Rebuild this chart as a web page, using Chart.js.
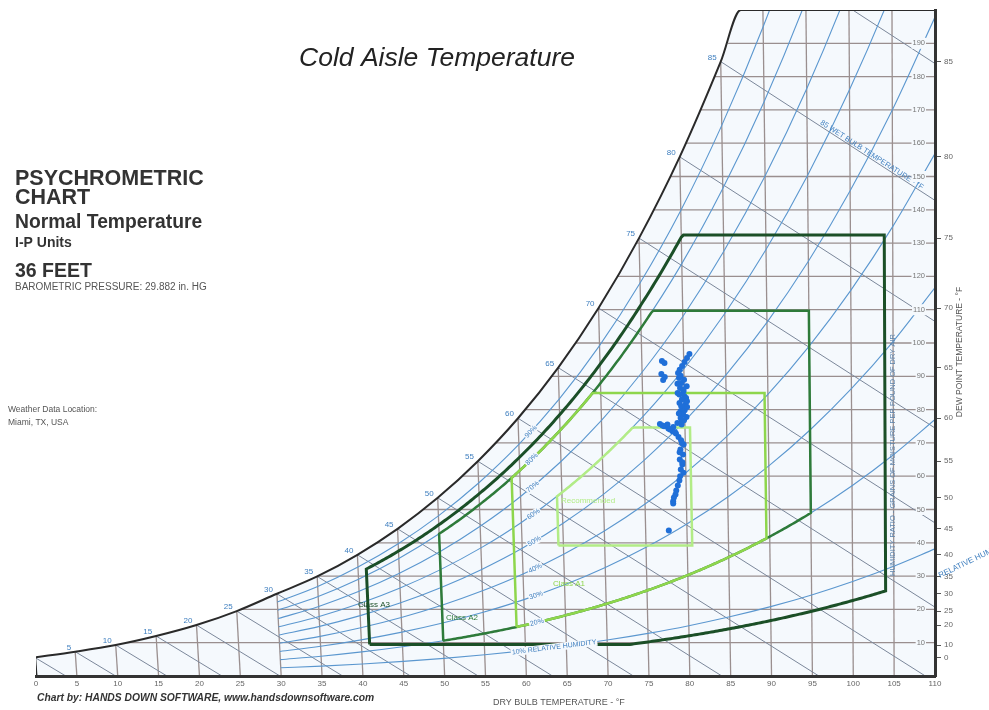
<!DOCTYPE html>
<html>
<head>
<meta charset="utf-8">
<title>Cold Aisle Temperature</title>
<script src="https://cdn.jsdelivr.net/npm/chart.js@4.4.1/dist/chart.umd.min.js"></script>
<style>
  html, body { margin: 0; padding: 0; background: #fff; }
  #psy { display: block; }
</style>
</head>
<body>
<canvas id="psy" width="989" height="710"></canvas>
<script>
// axis ticks
var dryBulbTicks = [0, 5, 10, 15, 20, 25, 30, 35, 40, 45, 50, 55, 60, 65, 70, 75, 80, 85, 90, 95, 100, 105, 110];
var grainTicks = [10, 20, 30, 40, 50, 60, 70, 80, 90, 100, 110, 120, 130, 140, 150, 160, 170, 180, 190];
var dewPointTicks = [0, 10, 20, 25, 30, 35, 40, 45, 50, 55, 60, 65, 70, 75, 80, 85];

// saturation humidity ratio, grains per lb dry air, at 29.882 in. Hg
var satTemps = [0, 5, 10, 15, 20, 25, 30, 35, 40, 45, 50, 55, 60, 65, 70, 75, 80, 85, 90, 95, 100, 105, 110];
var satGrains = [5.6, 7.3, 9.3, 12.0, 15.3, 19.5, 24.7, 29.9, 36.4, 44.2, 53.5, 64.5, 77.4, 92.6, 110.5, 131.5, 155.9, 184.5, 217.7, 256.4, 301.5, 353.8, 414.6];

var rhLevels = [10, 20, 30, 40, 50, 60, 70, 80, 90];
var wetBulbTemps = [0, 5, 10, 15, 20, 25, 30, 35, 40, 45, 50, 55, 60, 65, 70, 75, 80, 85, 90];
var satLabelTemps = [5, 10, 15, 20, 25, 30, 35, 40, 45, 50, 55, 60, 65, 70, 75, 80, 85];

// ASHRAE 2011 envelopes (dry bulb F, dew point F, RH %)
var classA3 = { tMin: 41, tMax: 104, dpMin: 10.4, dpMax: 75.2, rhMin: 8, rhMax: 85 };
var classA2 = { tMin: 50, tMax: 95, dpMax: 69.8, rhMin: 20, rhMax: 80 };
var classA1 = { tMin: 59, tMax: 89.6, dpMax: 62.6, rhMin: 20, rhMax: 80 };
var recommended = { tMin: 64.4, tMax: 80.6, dpMin: 41.9, dpMax: 59, rhMax: 60 };

// cold aisle readings: dry bulb F / grains per lb
var coldAisleTemp = [80.7, 80.4, 80.1, 79.8, 79.5, 79.3, 77.4, 77.7, 77.3, 77.7, 77.5,
  79.4, 79.7, 79.5, 79.9, 80.0, 79.7, 79.4, 80.1, 79.8, 79.5, 79.8, 79.5, 79.9, 79.1, 79.6, 80.2, 79.2, 80.3,
  79.6, 80.0, 79.2, 79.9, 79.4, 80.3, 79.6, 80.0, 79.3, 80.2, 79.6, 80.3,
  77.0, 77.5, 78.0, 78.5, 78.9, 79.2, 78.6, 77.9, 77.3, 78.2, 78.8,
  79.5, 79.8, 79.4, 79.7, 79.3, 79.6, 79.4, 79.7, 79.3, 79.6, 79.3, 79.6,
  79.2, 79.0, 78.8, 78.7, 78.5, 78.4, 78.4, 77.8];
var coldAisleGrains = [96.7, 95.5, 94.3, 93.1, 92.0, 91.0, 94.6, 94.0, 90.7, 89.8, 88.9,
  89.5, 88.0, 86.5, 85.5, 84.0, 83.0, 82.0, 81.5, 80.5, 79.5, 78.5, 77.5, 76.8, 76.0, 75.5, 83.5, 85.0, 87.0,
  90.2, 89.0, 87.8, 86.0, 84.5, 82.5, 81.0, 79.8, 78.8, 77.8, 76.3, 80.8,
  75.7, 75.0, 74.3, 73.5, 72.8, 71.8, 74.8, 75.5, 75.2, 74.0, 73.2,
  70.8, 69.5, 68.0, 66.5, 65.0, 63.5, 62.0, 61.0, 60.0, 70.0, 67.2, 64.2,
  58.7, 57.2, 55.7, 54.5, 53.6, 52.5, 51.8, 43.7];

var P = 29.882 * 0.491154; // psia

function satAt(t) {
  var i = Math.min(Math.max(Math.floor(t / 5), 0), satTemps.length - 2);
  var f = (t - satTemps[i]) / 5;
  return Math.exp(Math.log(satGrains[i]) + f * (Math.log(satGrains[i + 1]) - Math.log(satGrains[i])));
}
function dewOf(g) {
  var i = 0;
  while (i < satGrains.length - 2 && satGrains[i + 1] < g) i++;
  var f = (Math.log(g) - Math.log(satGrains[i])) / (Math.log(satGrains[i + 1]) - Math.log(satGrains[i]));
  return satTemps[i] + 5 * f;
}
function pSat(t) { var w = satAt(t) / 7000; return P * w / (0.621945 + w); }
function rhGrains(t, rh) { var pv = rh / 100 * pSat(t); return 7000 * 0.621945 * pv / (P - pv); }
function wetBulbGrains(t, twb) {
  var ws = satAt(twb) / 7000;
  return 7000 * ((1093 - 0.556 * twb) * ws - 0.24 * (t - twb)) / (1093 + 0.444 * t - twb);
}

// the chart is laid out on oblique enthalpy coordinates: dry bulb lines lean,
// only the 110 F line stands vertical
function chartPoint(t, g) {
  return { x: t + 0.000264 * (t - 110) * g, y: g };
}

function line(pts, color, width, order, extra) {
  var ds = {
    data: pts.map(function (p) { return chartPoint(p[0], p[1]); }),
    showLine: true, pointRadius: 0, borderColor: color, borderWidth: width, fill: false, tension: 0, order: order
  };
  for (var k in extra) ds[k] = extra[k];
  return ds;
}

function envelope(c) {
  function lower(t) {
    var g = 0;
    if (c.dpMin != null) g = Math.max(g, satAt(c.dpMin));
    if (c.rhMin != null) g = Math.max(g, rhGrains(t, c.rhMin));
    return g;
  }
  function upper(t) {
    var g = Infinity;
    if (c.dpMax != null) g = Math.min(g, satAt(c.dpMax));
    if (c.rhMax != null) g = Math.min(g, rhGrains(t, c.rhMax));
    return g;
  }
  var ts = [], t;
  for (t = c.tMin; t < c.tMax; t += 0.25) ts.push(t);
  ts.push(c.tMax);
  var pts = ts.map(function (t) { return [t, lower(t)]; });
  ts.slice().reverse().forEach(function (t) { pts.push([t, upper(t)]); });
  pts.push(pts[0]);
  return pts;
}

var topTemp = dewOf(200);
var satCurve = satTemps.filter(function (t) { return t <= 85; }).map(function (t, i) { return [t, satGrains[i]]; });
satCurve.push([topTemp, 200], [110, 200]);

var datasets = [];

// light tint under the saturation curve
datasets.push(line(satCurve, 'rgba(0,0,0,0)', 0, 40, { fill: 'origin', backgroundColor: '#f5f9fd', cubicInterpolationMode: 'monotone' }));

// dry bulb lines
dryBulbTicks.forEach(function (t) {
  if (t === 0 || t === 110) return;
  datasets.push(line([[t, 0], [t, Math.min(satAt(t), 200)]], '#9a8f8f', 1.3, 30));
});
// humidity ratio lines
grainTicks.forEach(function (g) {
  datasets.push(line([[dewOf(g), g], [110, g]], '#9a8f8f', 1.3, 30));
});
// wet bulb lines
wetBulbTemps.forEach(function (twb) {
  var tEnd = Math.min(twb + (1093 - 0.556 * twb) * (satAt(twb) / 7000) / 0.24, 110);
  datasets.push(line([[twb, satAt(twb)], [tEnd, Math.max(wetBulbGrains(tEnd, twb), 0)]], '#7b879a', 1, 28));
});
// relative humidity curves
rhLevels.forEach(function (rh) {
  var pts = satTemps.filter(function (t) { return t >= 30; }).map(function (t) { return [t, rhGrains(t, rh)]; });
  datasets.push(line(pts, '#5b97cf', 1.1, 26, { cubicInterpolationMode: 'monotone' }));
});
// saturation curve and left edge
datasets.push(line(satCurve, '#2a2a2a', 2, 10, { cubicInterpolationMode: 'monotone' }));
datasets.push(line([[0, 0], [0, satGrains[0]]], '#2a2a2a', 3, 10));

// envelopes
datasets.push(line(envelope(classA3), '#1b4f27', 3, 5));
datasets.push(line(envelope(classA2), '#2e7b3a', 2.5, 4));
datasets.push(line(envelope(classA1), '#8ed64c', 2.5, 3));
datasets.push(line(envelope(recommended), '#b2ec86', 2.5, 2));

// readings
datasets.push({
  data: coldAisleTemp.map(function (t, i) { return chartPoint(t, coldAisleGrains[i]); }),
  pointRadius: 3, pointBackgroundColor: '#1f6fd8', pointBorderWidth: 0, showLine: false, order: 0
});

var BLUE = '#3f7fbf';
var FONT = '"Liberation Sans", Arial, sans-serif';

function txt(ctx, s, x, y, size, opts) {
  opts = opts || {};
  ctx.save();
  ctx.translate(x, y);
  if (opts.angle) ctx.rotate(opts.angle);
  ctx.font = (opts.style || '') + ' ' + size + 'px ' + FONT;
  ctx.fillStyle = opts.color || '#333';
  ctx.textAlign = opts.align || 'left';
  ctx.textBaseline = opts.baseline || 'alphabetic';
  if (opts.bg) {
    var w = ctx.measureText(s).width;
    var x0 = opts.align === 'center' ? -w / 2 : (opts.align === 'right' ? -w : 0);
    ctx.fillStyle = opts.bg;
    ctx.fillRect(x0 - 1, -size * 0.55, w + 2, size * 1.1);
    ctx.fillStyle = opts.color || '#333';
  }
  ctx.fillText(s, 0, 0);
  ctx.restore();
}

var labelsPlugin = {
  id: 'psyLabels',
  afterDatasetsDraw: function (chart) {
    var ctx = chart.ctx, xs = chart.scales.x, ys = chart.scales.y;
    function pos(t, g) {
      var p = chartPoint(t, g);
      return { x: xs.getPixelForValue(p.x), y: ys.getPixelForValue(p.y) };
    }

    // title and chart block
    txt(ctx, 'Cold Aisle Temperature', 437, 66, 26.5, { style: 'italic', color: '#222', align: 'center' });
    txt(ctx, 'PSYCHROMETRIC', 15, 185, 21.5, { style: 'bold' });
    txt(ctx, 'CHART', 15, 204, 21.5, { style: 'bold' });
    txt(ctx, 'Normal Temperature', 15, 228, 19.3, { style: 'bold' });
    txt(ctx, 'I-P Units', 15, 247, 14, { style: 'bold' });
    txt(ctx, '36 FEET', 15, 277, 19.5, { style: 'bold' });
    txt(ctx, 'BAROMETRIC PRESSURE: 29.882 in. HG', 15, 290, 10, { color: '#555' });
    txt(ctx, 'Weather Data Location:', 8, 412, 8.5, { color: '#555' });
    txt(ctx, 'Miami, TX, USA', 8, 425, 8.5, { color: '#555' });
    txt(ctx, 'Chart by: HANDS DOWN SOFTWARE, www.handsdownsoftware.com', 37, 701, 10.3, { style: 'italic bold', color: '#333' });
    txt(ctx, 'DRY BULB TEMPERATURE - \u00b0F', 493, 705, 9, { color: '#555' });

    // saturation (wet bulb / dew point) labels
    satLabelTemps.forEach(function (t) {
      var p = pos(t, satAt(t));
      txt(ctx, String(t), p.x - 4, p.y - 2, 8, { color: BLUE, align: 'right' });
    });

    // relative humidity labels
    rhLevels.forEach(function (rh) {
      var t = rh === 10 ? 63.5 : 61.5;
      var a1 = pos(t - 1, rhGrains(t - 1, rh)), a2 = pos(t + 1, rhGrains(t + 1, rh)), p = pos(t, rhGrains(t, rh));
      var s = rh === 10 ? '10% RELATIVE HUMIDITY' : rh + '%';
      txt(ctx, s, p.x, p.y, 7, { color: BLUE, align: 'center', baseline: 'middle', angle: Math.atan2(a2.y - a1.y, a2.x - a1.x), bg: '#f5f9fd' });
    });
    txt(ctx, 'RELATIVE HUMIDITY', 940, 578, 8, { color: BLUE, angle: -0.45 });

    // wet bulb caption along the 85 F line
    var w1 = pos(95, wetBulbGrains(95, 85)), w2 = pos(105, wetBulbGrains(105, 85)), w0 = pos(96.5, wetBulbGrains(96.5, 85));
    txt(ctx, '85 WET BULB TEMPERATURE - \u00b0F', w0.x, w0.y - 2, 7.5, { color: BLUE, angle: Math.atan2(w2.y - w1.y, w2.x - w1.x) });

    // axis captions on the right
    txt(ctx, 'HUMIDITY RATIO - GRAINS OF MOISTURE PER POUND OF DRY AIR', 895, 455, 7.5, { color: '#5d84ad', align: 'center', angle: -Math.PI / 2 });
    txt(ctx, 'DEW POINT TEMPERATURE - \u00b0F', 962, 352, 8.5, { color: '#555', align: 'center', angle: -Math.PI / 2 });

    // envelope names
    txt(ctx, 'Class A3', 358, 607, 8, { color: '#1b4f27' });
    txt(ctx, 'Class A2', 446, 620, 8, { color: '#2e7b3a' });
    txt(ctx, 'Class A1', 553, 586, 8, { color: '#8ed64c' });
    txt(ctx, 'Recommended', 561, 503, 8, { color: '#b2ec86' });
  }
};

new Chart(document.getElementById('psy'), {
  type: 'scatter',
  data: { datasets: datasets },
  options: {
    responsive: false,
    animation: false,
    devicePixelRatio: 1,
    layout: { padding: { left: 36, top: 10, right: 0, bottom: 14 } },
    plugins: { legend: { display: false }, tooltip: { enabled: false } },
    scales: {
      x: {
        type: 'linear', min: 0, max: 110,
        afterBuildTicks: function (s) { s.ticks = dryBulbTicks.map(function (v) { return { value: v }; }); },
        afterFit: function (s) { s.height = 20; },
        grid: { display: false, drawTicks: false },
        border: { color: '#333', width: 3, z: 2 },
        ticks: { font: { size: 8, family: FONT }, color: '#666', padding: 3, autoSkip: false, maxRotation: 0 }
      },
      y: {
        type: 'linear', position: 'right', min: 0, max: 200, weight: 0,
        afterBuildTicks: function (s) { s.ticks = grainTicks.map(function (v) { return { value: v }; }); },
        afterFit: function (s) { s.width = 0; },
        grid: { display: false, drawTicks: false },
        border: { color: '#333', width: 3, z: 2 },
        ticks: {
          mirror: true, crossAlign: 'near', padding: -10, z: 2, autoSkip: false,
          font: { size: 7.5, family: FONT }, color: '#777',
          showLabelBackdrop: true, backdropColor: '#f5f9fd', backdropPadding: 1
        }
      },
      y2: {
        type: 'linear', position: 'right', min: 0, max: 200, weight: 1,
        afterBuildTicks: function (s) { s.ticks = dewPointTicks.map(function (dp) { return { value: satAt(dp) }; }); },
        afterFit: function (s) { s.width = 54; },
        grid: { display: true, drawOnChartArea: false, drawTicks: true, tickLength: 6, tickColor: '#555', tickWidth: 1 },
        border: { display: false },
        ticks: {
          autoSkip: false, padding: 3, font: { size: 8, family: FONT }, color: '#666',
          callback: function (v, i) { return String(dewPointTicks[i]); }
        }
      }
    }
  },
  plugins: [labelsPlugin]
});
</script>
</body>
</html>
